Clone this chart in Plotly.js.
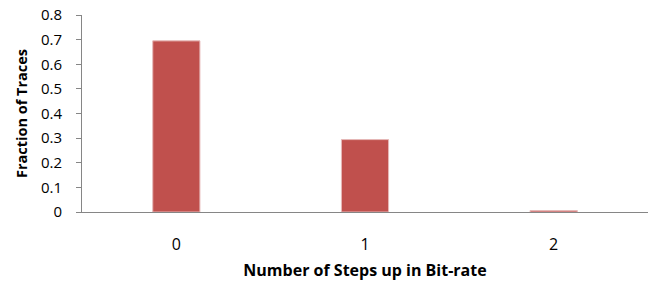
<!DOCTYPE html>
<html>
<head>
<meta charset="utf-8">
<script src="https://cdn.plot.ly/plotly-3.0.1.min.js"></script>
<style>html,body{margin:0;padding:0;background:#fff;}#chart{width:654px;height:288px;}</style>
</head>
<body>
<div id="chart"></div>
<script>
var categories = ["0", "1", "2"];
var fractions = [0.695, 0.294, 0.006];
var yTickVals = [0, 0.1, 0.2, 0.3, 0.4, 0.5, 0.6, 0.7, 0.8];
var yTickText = ["0", "0.1", "0.2", "0.3", "0.4", "0.5", "0.6", "0.7", "0.8"];

var trace = {
  type: "bar",
  x: categories,
  y: fractions,
  width: 0.25,
  marker: {color: "#C0504D", line: {color: "#E6B9B8", width: 1}},
  hoverinfo: "x+y"
};

var layout = {
  width: 654, height: 288,
  margin: {l: 82, r: 6, t: 15, b: 76},
  paper_bgcolor: "#ffffff", plot_bgcolor: "#ffffff",
  font: {family: "Open Sans, Liberation Sans, sans-serif", color: "#000000", size: 14},
  showlegend: false,
  bargap: 0.75,
  xaxis: {
    type: "category",
    showline: true, linecolor: "#868686", linewidth: 1,
    ticks: "", showgrid: false, zeroline: false,
    tickfont: {size: 16},
    ticklabelstandoff: 18,
    title: {text: "<b>Number of Steps up in Bit-rate</b>", font: {size: 16}, standoff: 10}
  },
  yaxis: {
    range: [0, 0.8],
    tickvals: yTickVals, ticktext: yTickText,
    showline: true, linecolor: "#868686", linewidth: 1,
    ticks: "outside", ticklen: 5, tickcolor: "#868686",
    showgrid: false, zeroline: false,
    tickfont: {size: 15},
    ticklabelstandoff: 11,
    title: {text: "<b>Fraction of Traces</b>", font: {size: 14.5}, standoff: 9}
  }
};

Plotly.newPlot("chart", [trace], layout, {displayModeBar: false, staticPlot: true});
</script>
</body>
</html>
